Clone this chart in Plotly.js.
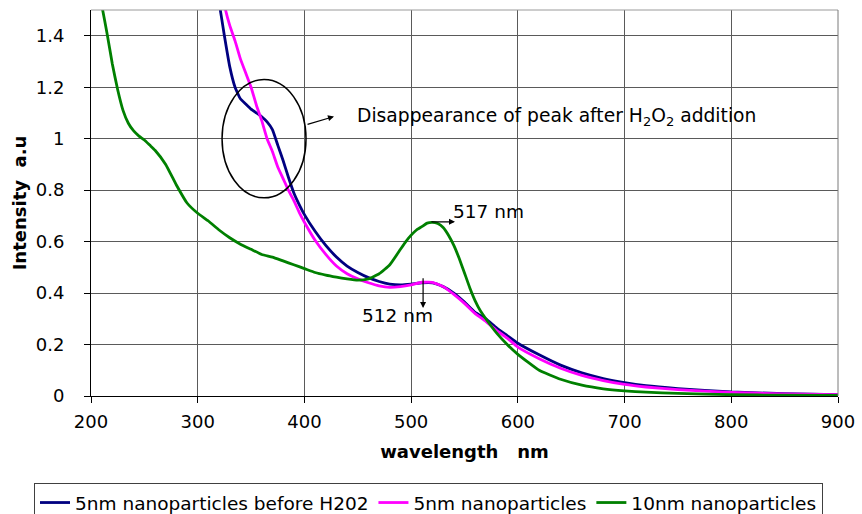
<!DOCTYPE html>
<html>
<head>
<meta charset="utf-8">
<script src="https://cdn.plot.ly/plotly-3.0.1.min.js"></script>
<style>html,body{margin:0;padding:0;background:#fff;}#chart{width:862px;height:514px;}</style>
</head>
<body>
<div id="chart"></div>
<script>
// Series names
const seriesNames = ["5nm nanoparticles before H202", "5nm nanoparticles", "10nm nanoparticles"];

// 5nm nanoparticles before H2O2 (navy)
const wlBefore = [310,320,325,330,335,340,345,350,355,360,365,370,375,380,385,390,395,400,410,420,430,440,450,460,470,480,490,500,510,520,530,540,550,560,570,580,590,600,620,640,660,680,700,720,750,800,850,900];
const intBefore = [1.75,1.53,1.40,1.28,1.20,1.155,1.135,1.115,1.10,1.085,1.065,1.035,0.975,0.915,0.85,0.79,0.745,0.705,0.64,0.585,0.54,0.505,0.48,0.46,0.445,0.435,0.432,0.435,0.44,0.44,0.425,0.40,0.365,0.325,0.30,0.265,0.235,0.205,0.16,0.12,0.09,0.068,0.052,0.04,0.029,0.016,0.009,0.005];

// 5nm nanoparticles (magenta)
const wl5nm = [315,320,325,330,335,340,345,350,355,360,365,370,375,380,385,390,395,400,410,420,430,440,450,460,470,480,490,500,510,520,530,540,550,560,570,580,590,600,620,640,660,680,700,720,750,800,850,900];
const int5nm = [1.75,1.65,1.52,1.44,1.38,1.31,1.255,1.20,1.13,1.07,1.00,0.95,0.89,0.845,0.80,0.76,0.715,0.675,0.605,0.55,0.505,0.475,0.455,0.44,0.428,0.422,0.425,0.432,0.442,0.442,0.425,0.395,0.36,0.32,0.29,0.255,0.225,0.19,0.145,0.108,0.08,0.06,0.045,0.035,0.025,0.014,0.008,0.005];

// 10nm nanoparticles (green)
const wl10nm = [205,210,215,220,225,230,235,240,245,250,255,260,270,280,290,300,310,320,330,340,350,360,370,380,390,400,410,420,430,440,450,460,470,480,490,495,500,505,510,515,520,525,530,535,540,545,550,555,560,565,570,580,590,600,620,640,660,680,700,720,750,800,850,900];
const int10nm = [1.62,1.52,1.41,1.29,1.19,1.11,1.06,1.03,1.01,0.995,0.975,0.955,0.90,0.82,0.75,0.71,0.68,0.645,0.615,0.59,0.57,0.55,0.54,0.525,0.51,0.495,0.48,0.47,0.462,0.455,0.45,0.455,0.475,0.51,0.57,0.60,0.625,0.645,0.658,0.672,0.675,0.67,0.655,0.625,0.585,0.535,0.478,0.42,0.37,0.33,0.30,0.245,0.20,0.162,0.10,0.065,0.042,0.028,0.02,0.015,0.01,0.005,0.003,0.002];

// Axis ticks
const xTicks = [200,300,400,500,600,700,800,900];
const yTicks = [0,0.2,0.4,0.6,0.8,1,1.2,1.4];
const yTickText = ["0","0.2","0.4","0.6","0.8","1","1.2","1.4"];

const FONT = "DejaVu Sans, Arial, sans-serif";

const traces = [
  {x: wlBefore, y: intBefore, name: seriesNames[0], mode: "lines", line: {color: "#000080", width: 2.8, shape: "spline", smoothing: 0.4}},
  {x: wl5nm, y: int5nm, name: seriesNames[1], mode: "lines", line: {color: "#FF00FF", width: 2.8, shape: "spline", smoothing: 0.4}},
  {x: wl10nm, y: int10nm, name: seriesNames[2], mode: "lines", line: {color: "#008000", width: 2.8, shape: "spline", smoothing: 0.4}}
];

const layout = {
  width: 862, height: 514,
  margin: {l: 91, r: 24, t: 10, b: 118, autoexpand: false},
  paper_bgcolor: "#ffffff", plot_bgcolor: "#ffffff",
  font: {family: FONT, size: 18, color: "#000"},
  showlegend: true,
  legend: {
    orientation: "h", xref: "paper", yref: "paper",
    x: -0.0763, xanchor: "left", y: -0.2254, yanchor: "top",
    bordercolor: "#404040", borderwidth: 1, font: {family: FONT, size: 18.5, color: "#000"},
    itemwidth: 30, tracegroupgap: 0
  },
  xaxis: {
    range: [200, 900], tickvals: xTicks, ticktext: xTicks.map(String),
    showgrid: true, gridcolor: "#5a5a5a", gridwidth: 1,
    showline: true, linecolor: "#000", linewidth: 1,
    ticks: "outside", ticklen: 6, tickcolor: "#000", ticklabelstandoff: 3,
    zeroline: false,
    title: {text: "<b>wavelength\u00A0\u00A0\u00A0nm</b>", font: {family: FONT, size: 18}, standoff: 14},
    automargin: false
  },
  yaxis: {
    range: [0, 1.5], tickvals: yTicks, ticktext: yTickText,
    showgrid: true, gridcolor: "#5a5a5a", gridwidth: 1,
    showline: true, linecolor: "#000", linewidth: 1,
    ticks: "outside", ticklen: 6, tickcolor: "#000", ticklabelstandoff: 16,
    zeroline: false,
    title: {text: "<b>Intensity\u00A0\u00A0a.u</b>", font: {family: FONT, size: 18}, standoff: 4},
    automargin: false
  },
  shapes: [
    {type: "line", xref: "paper", yref: "paper", x0: 0, x1: 1, y0: 1, y1: 1, line: {color: "#9a9a9a", width: 1}},
    {type: "line", xref: "paper", yref: "paper", x0: 1, x1: 1, y0: 0, y1: 1, line: {color: "#7a7a7a", width: 1}},
    {type: "circle", xref: "x", yref: "y", x0: 322.8, x1: 401.5, y0: 0.77, y1: 1.23, line: {color: "#000", width: 1.5}}
  ],
  annotations: [
    {x: 427.7, y: 1.086, ax: 401.5, ay: 1.054, axref: "x", ayref: "y", xref: "x", yref: "y", text: "", showarrow: true, arrowhead: 2, arrowsize: 1, arrowwidth: 1.2, arrowcolor: "#000"},
    {x: 447, y: 1.086, xref: "x", yref: "y", xanchor: "left", yanchor: "middle", showarrow: false,
     text: "Disappearance of peak after H<sub>2</sub>O<sub>2</sub> addition", font: {family: FONT, size: 18.7, color: "#000"}},
    {x: 541.1, y: 0.677, ax: 517.7, ay: 0.677, axref: "x", ayref: "y", xref: "x", yref: "y", text: "", showarrow: true, arrowhead: 2, arrowsize: 1, arrowwidth: 1.2, arrowcolor: "#000"},
    {x: 537, y: 0.716, xref: "x", yref: "y", xanchor: "left", yanchor: "middle", showarrow: false, text: "517 nm", font: {family: FONT, size: 18.5, color: "#000"}},
    {x: 511.2, y: 0.342, ax: 511.2, ay: 0.463, axref: "x", ayref: "y", xref: "x", yref: "y", text: "", showarrow: true, arrowhead: 2, arrowsize: 1, arrowwidth: 1.2, arrowcolor: "#000"},
    {x: 487, y: 0.311, xref: "x", yref: "y", xanchor: "center", yanchor: "middle", showarrow: false, text: "512 nm", font: {family: FONT, size: 18.5, color: "#000"}}
  ]
};

Plotly.newPlot("chart", traces, layout, {displayModeBar: false, staticPlot: true});
</script>
</body>
</html>
